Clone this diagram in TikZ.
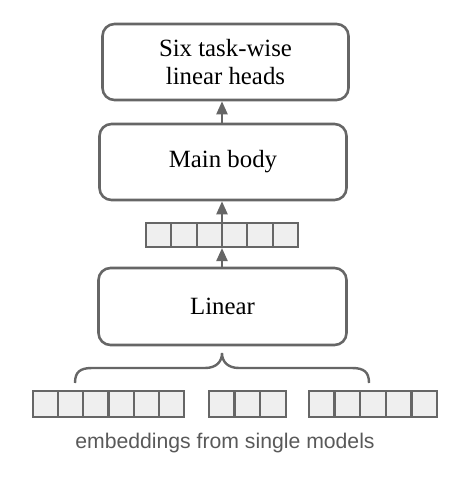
\documentclass[tikz,border=0pt]{standalone}
\usepackage{fontspec}
\setmainfont{Liberation Serif}
\newfontfamily\labelsans{Liberation Sans}
\usetikzlibrary{arrows.meta}
\definecolor{edgegray}{HTML}{666666}
\definecolor{cellfill}{HTML}{EFEFEF}
\definecolor{textgray}{HTML}{595959}
\tikzset{
  blockbox/.style={draw=edgegray, line width=2.6pt, rounded corners=12pt, fill=white,
    minimum width=246pt, minimum height=76pt, inner sep=0pt, align=center,
    font=\fontsize{24.8}{27.5}\selectfont, text=black},
  cellbox/.style={draw=edgegray, fill=cellfill, line width=2.2pt, inner sep=0pt,
    minimum width=25.3pt, minimum height=24pt},
  flowarrow/.style={draw=edgegray, line width=2.2pt, -{Triangle[length=13pt,width=11pt]}},
  bracepath/.style={draw=edgegray, line width=2.4pt},
}
\begin{document}
\begin{tikzpicture}[x=1pt,y=-1pt]
\useasboundingbox (0,0) rectangle (468,477);
% boxes
\node[blockbox] (heads) at (225.5,62) {Six task-wise\\linear heads};
\node[blockbox, minimum width=247pt] (body) at (223,162) {Main body};
\node[blockbox, minimum width=248pt, minimum height=77pt] (lin) at (222.5,306.5) {Linear};
% middle vector
\foreach \i in {0,...,5}{
  \node[cellbox] (m\i) at ({146+25.33*\i+12.67},235) {};
}
\coordinate (mvs) at (222,248);
\coordinate (mvn) at (222,222);
% bottom vectors
\foreach \i in {0,...,5}{
  \node[cellbox, minimum height=25.5pt] (a\i) at ({33+25.2*\i+12.6},404) {};
}
\foreach \i in {0,...,2}{
  \node[cellbox, minimum height=25.5pt] (b\i) at ({209+25.6*\i+12.8},404) {};
}
\foreach \i in {0,...,4}{
  \node[cellbox, minimum height=25.5pt] (c\i) at ({309+25.6*\i+12.8},404) {};
}
% arrows
\draw[flowarrow] (lin.north -| mvs) -- (mvs);
\draw[flowarrow] (mvn) -- (body.south -| mvn);
\draw[flowarrow] (body.north -| mvn) -- (heads.south -| mvn);
% brace
\path[bracepath] (75,383) .. controls (75,372) and (80,368) .. (92,368)
  -- (205,368) .. controls (216,368) and (222,362) .. (222,353)
  .. controls (222,362) and (228,368) .. (239,368)
  -- (352,368) .. controls (364,368) and (369,372) .. (369,383);
% caption
\node[font=\labelsans\fontsize{21.2}{24}\selectfont, text=textgray] (cap) at (225,443) {embeddings from single models};
\end{tikzpicture}
\end{document}
